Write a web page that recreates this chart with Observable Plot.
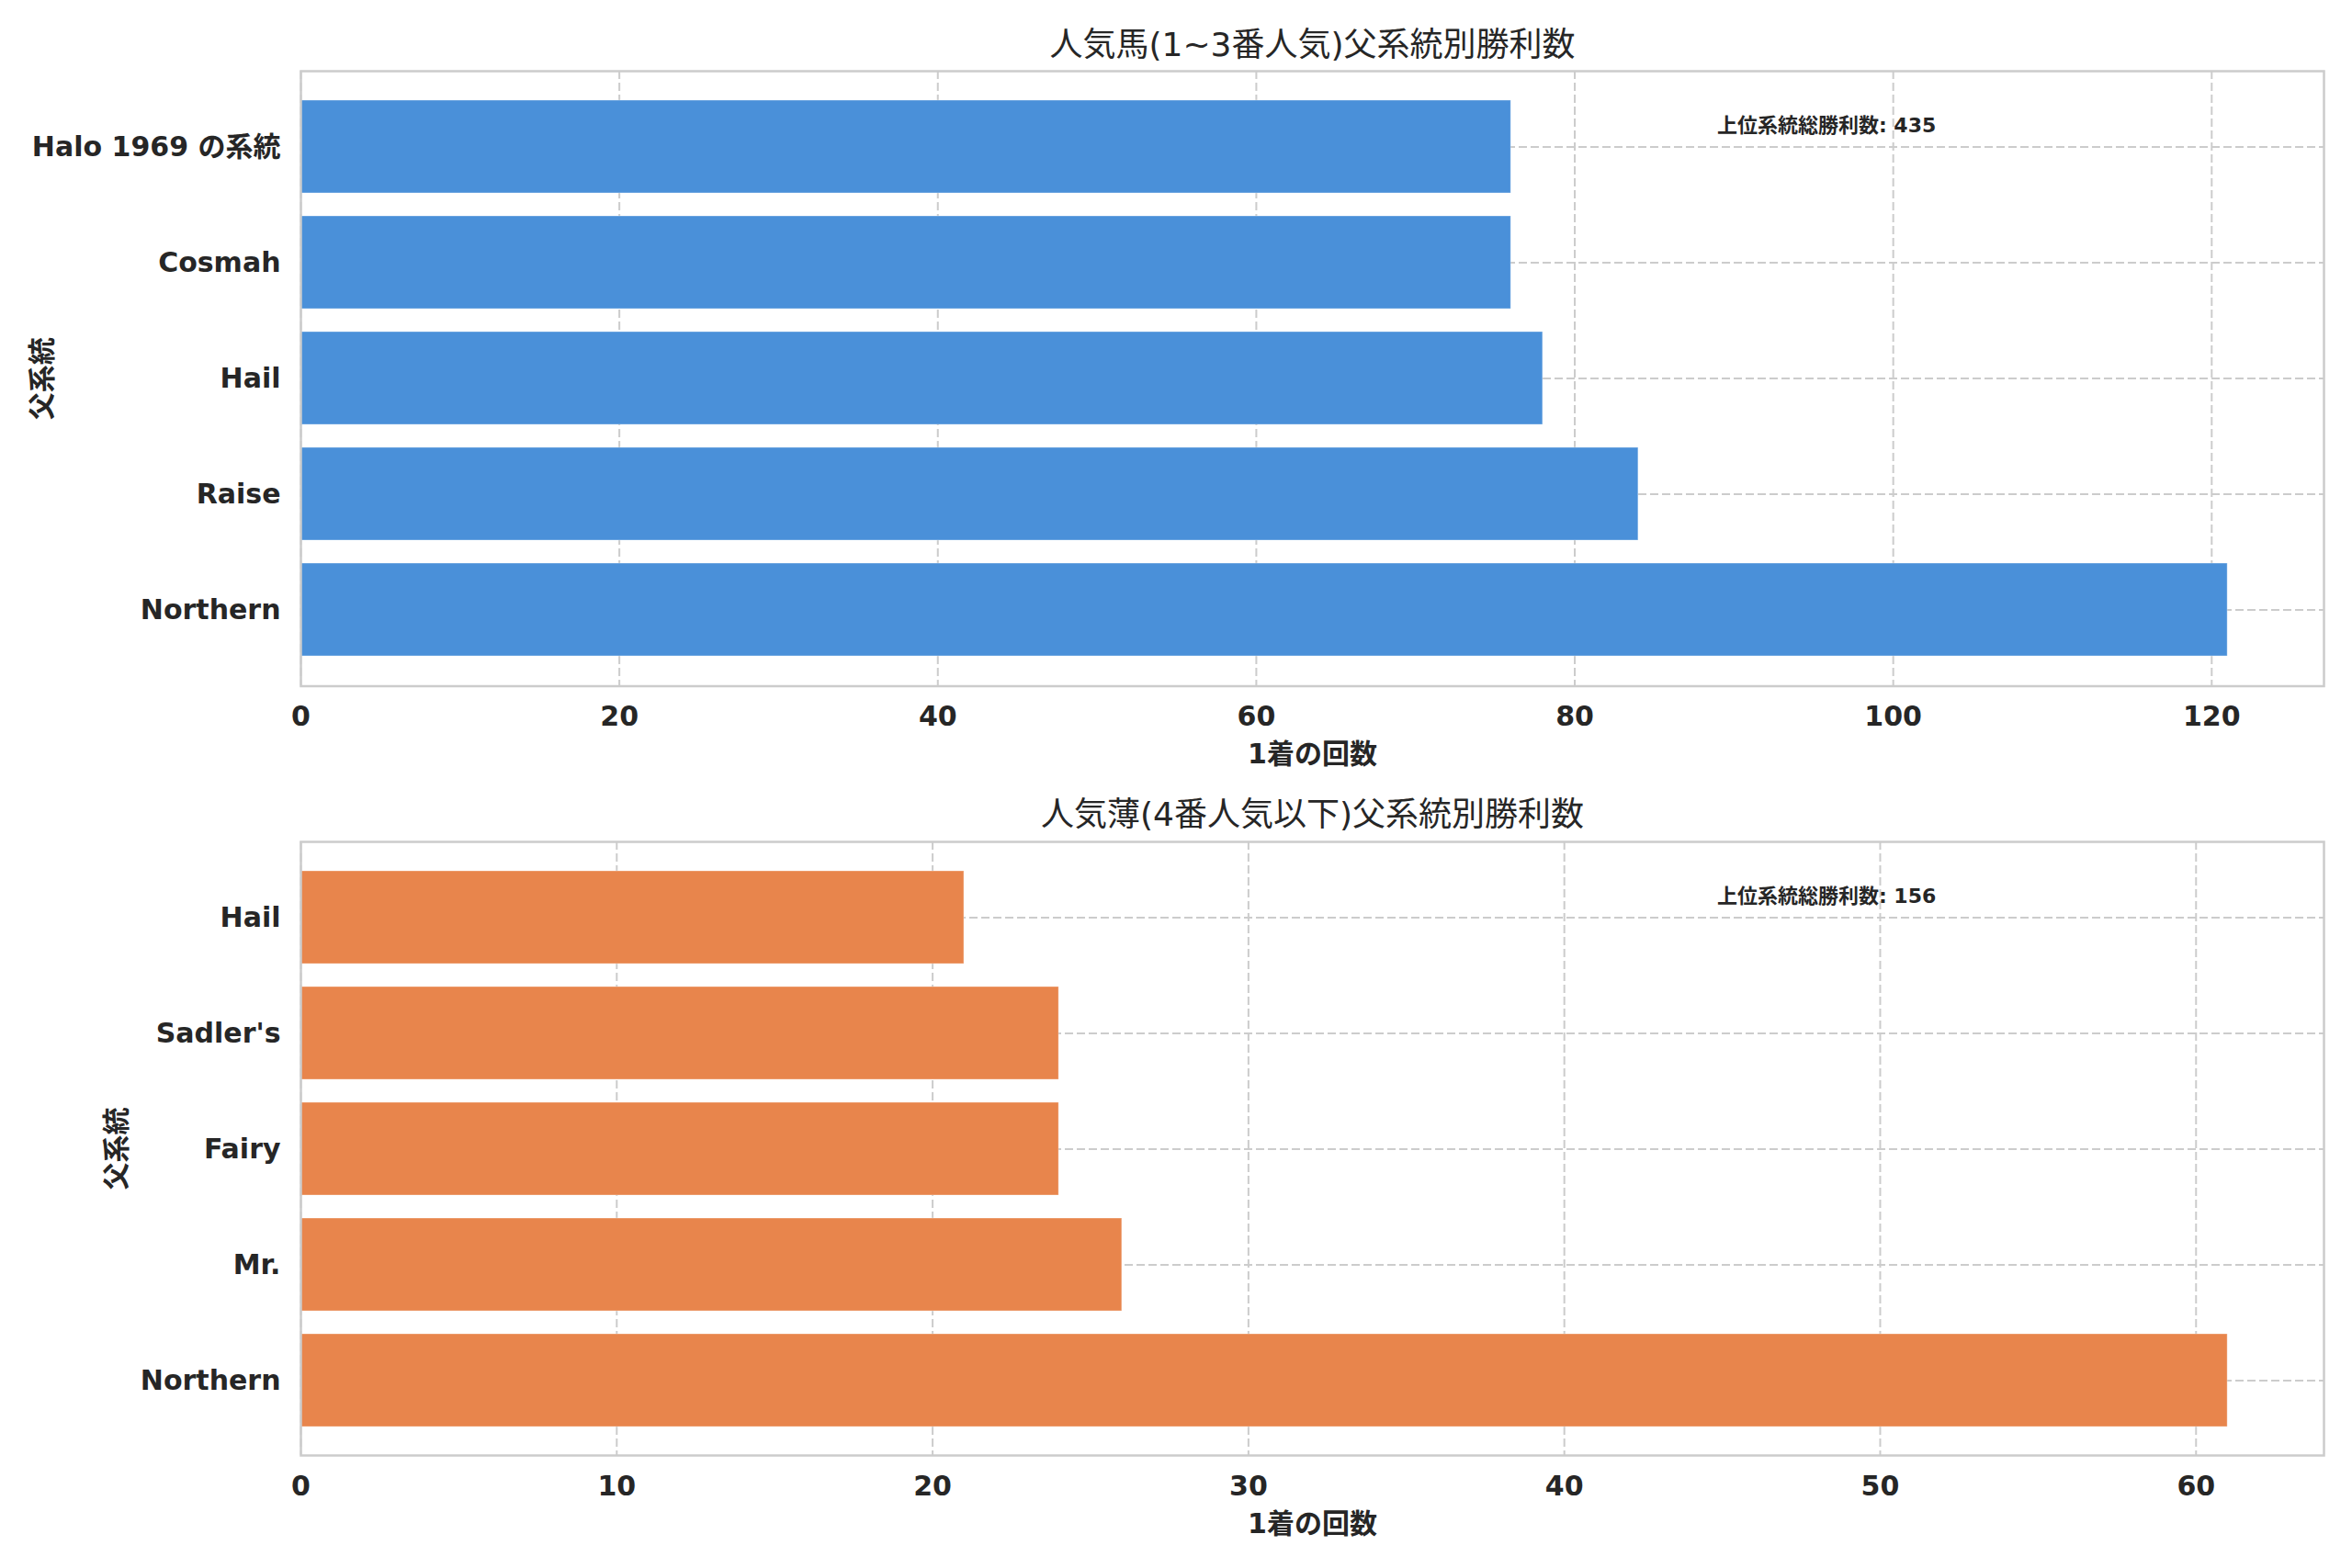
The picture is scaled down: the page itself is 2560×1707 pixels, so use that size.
<!DOCTYPE html>
<html>
<head>
<meta charset="utf-8">
<script src="https://cdn.jsdelivr.net/npm/d3@7"></script>
<script src="https://cdn.jsdelivr.net/npm/@observablehq/plot@0.6"></script>
<style>
html, body { margin: 0; padding: 0; background: #ffffff; }
#chart { width: 2560px; }
#chart svg { display: block; }
</style>
</head>
<body>
<div id="chart"></div>
<script>
// ---- data ----
const topTitle = "人気馬(1~3番人気)父系統別勝利数";
const bottomTitle = "人気薄(4番人気以下)父系統別勝利数";
const topCategories = ["Halo 1969 の系統", "Cosmah", "Hail", "Raise", "Northern"];
const topWins = [76, 76, 78, 84, 121];
const bottomCategories = ["Hail", "Sadler's", "Fairy", "Mr.", "Northern"];
const bottomWins = [21, 24, 24, 26, 61];
const topTicks = [0, 20, 40, 60, 80, 100, 120];
const bottomTicks = [0, 10, 20, 30, 40, 50, 60];
const totals = [435, 156];
const xLabel = "1着の回数";
const yLabel = "父系統";
const totalLabel = "上位系統総勝利数";
const colors = ["#4a90d9", "#e8854c"];

const W = 2560, ML = 327, MR = 31;
const frameW = W - ML - MR;
const GRID = "#cccccc";

function panel({cats, vals, title, total, ticks, color, height, marginTop, marginBottom, titleDy, xlabelDy, ylabelDx}) {
  const data = cats.map((c, i) => ({cat: c, v: vals[i]}));
  return Plot.plot({
    width: W,
    height,
    marginLeft: ML,
    marginRight: MR,
    marginTop,
    marginBottom,
    style: {
      fontFamily: "'DejaVu Sans', 'Noto Sans CJK JP', sans-serif",
      fontSize: "30px",
      fontWeight: "bold",
      color: "#262626",
      background: "#ffffff",
      overflow: "visible"
    },
    x: {domain: [0, d3.max(vals) * 1.05]},
    y: {domain: cats, paddingInner: 0.2, paddingOuter: 0.24},
    marks: [
      Plot.gridX({ticks, stroke: GRID, strokeOpacity: 1, strokeWidth: 2, strokeDasharray: "9,4"}),
      Plot.gridY({stroke: GRID, strokeOpacity: 1, strokeWidth: 2, strokeDasharray: "9,4"}),
      Plot.barX(data, {x: "v", y: "cat", fill: color, stroke: "#ffffff", strokeOpacity: 0.35, strokeWidth: 1}),
      Plot.frame({stroke: GRID, strokeWidth: 2.5}),
      Plot.axisX({ticks, tickSize: 0, tickPadding: 22, label: null, fill: "#262626"}),
      Plot.axisY({tickSize: 0, tickPadding: 22, label: null, fill: "#262626"}),
      Plot.text([title], {text: d => d, frameAnchor: "top", dy: titleDy, lineAnchor: "middle", fontSize: 36, fontWeight: "normal", fill: "#262626"}),
      Plot.text([xLabel], {text: d => d, frameAnchor: "bottom", dy: xlabelDy, lineAnchor: "middle", fontSize: 30, fill: "#262626"}),
      Plot.text([yLabel], {text: d => d, frameAnchor: "left", dx: ylabelDx, rotate: -90, lineAnchor: "middle", textAnchor: "middle", fontSize: 30, fill: "#262626"}),
      Plot.text([total], {text: d => `${totalLabel}: ${d}`, frameAnchor: "top-left", dx: 0.7 * frameW, dy: 59.5, textAnchor: "start", lineAnchor: "middle", fontSize: 22, fill: "#262626"})
    ]
  });
}

const chart = document.getElementById("chart");
chart.append(panel({
  cats: topCategories, vals: topWins, title: topTitle, total: totals[0], ticks: topTicks, color: colors[0],
  height: 850, marginTop: 77, marginBottom: 103.5, titleDy: -28.5, xlabelDy: 74.5, ylabelDx: -281
}));
chart.append(panel({
  cats: bottomCategories, vals: bottomWins, title: bottomTitle, total: totals[1], ticks: bottomTicks, color: colors[1],
  height: 857, marginTop: 66, marginBottom: 123, titleDy: -29, xlabelDy: 75, ylabelDx: -200
}));
</script>
</body>
</html>
